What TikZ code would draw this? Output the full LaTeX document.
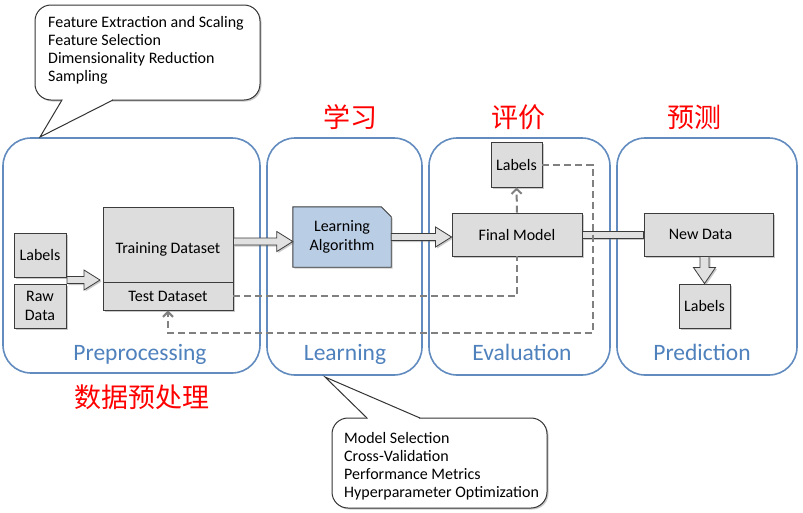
\documentclass[tikz,border=0pt]{standalone}
\usepackage{fontspec}
\setmainfont{Carlito}
\newfontfamily\cjk{Noto Sans CJK SC}
\usetikzlibrary{calc,shadows,arrows.meta}
\definecolor{stageblue}{RGB}{98,140,192}
\definecolor{stagetext}{RGB}{79,129,189}
\definecolor{boxgray}{RGB}{221,221,221}
\definecolor{boxline}{RGB}{60,60,60}
\definecolor{lafill}{RGB}{185,205,229}
\definecolor{dashgray}{RGB}{128,128,128}
\definecolor{arrowfill}{RGB}{225,225,225}
\pgfdeclarelayer{background}
\pgfsetlayers{background,main}
\newcommand{\fatarrowH}[2]{%
  \filldraw[fatarrow] let \p1=#1, \p2=#2 in
    (\x1,\y1+3.5pt) -- (\x2-16pt,\y1+3.5pt) -- (\x2-16pt,\y1+10pt) -- (\x2,\y1)
    -- (\x2-16pt,\y1-10pt) -- (\x2-16pt,\y1-3.5pt) -- (\x1,\y1-3.5pt) -- cycle;}
\newcommand{\fatarrowV}[2]{%
  \filldraw[fatarrow] let \p1=#1, \p2=#2 in
    (\x2-4.5pt,\y1) -- (\x2-4.5pt,\y2+16pt) -- (\x2-11pt,\y2+16pt) -- (\x2,\y2)
    -- (\x2+11pt,\y2+16pt) -- (\x2+4.5pt,\y2+16pt) -- (\x2+4.5pt,\y1) -- cycle;}
\begin{document}
\begin{tikzpicture}[x=1pt,y=-1pt,
  shadowed/.style={drop shadow={shadow xshift=1.5pt,shadow yshift=-1.5pt,opacity=0.35,fill=black!60}},
  stage/.style={draw=stageblue,line width=1.6pt,rounded corners=28pt,inner sep=0pt},
  stagelabel/.style={text=stagetext,font=\fontsize{23.5}{26}\selectfont,anchor=base,inner sep=0pt},
  cn/.style={text=red,font=\cjk\fontsize{27}{30}\selectfont,inner sep=0pt},
  boxtext/.style={inner sep=0pt,font=\fontsize{16}{18.5}\selectfont,align=center,text=black},
  gbox/.style={boxtext,draw=boxline,fill=boxgray,line width=0.9pt,shadowed},
  fatarrow/.style={draw=boxline,fill=arrowfill,line width=0.8pt,shadowed},
  dashline/.style={draw=dashgray,line width=2pt,dash pattern=on 7pt off 4pt},
  dashhead/.style={-{Straight Barb[length=5pt,width=10pt]}},
  callbox/.style={draw=black!80,fill=white,line width=1pt,rounded corners=16pt,shadowed},
  calltext/.style={font=\fontsize{16}{18}\selectfont,align=left,inner sep=0pt,anchor=north west,text=black}
]
\useasboundingbox (0,0) rectangle (803,512);
\begin{pgfonlayer}{background}
  \fill[white] (0,0) rectangle (803,512);
\end{pgfonlayer}

% stages
\node[stage,minimum width=257pt,minimum height=235pt] (pre) at (131.5,255.5) {};
\node[stage,minimum width=155pt,minimum height=237pt] (lrn) at (344.5,256.5) {};
\node[stage,minimum width=181pt,minimum height=237pt] (evl) at (519.5,256.5) {};
\node[stage,minimum width=180pt,minimum height=237pt] (prd) at (707,256.5) {};

\node[stagelabel] (prel) at (140,360) {Preprocessing};
\node[stagelabel] (lrnl) at (345,360) {Learning};
\node[stagelabel] (evll) at (522,360) {Evaluation};
\node[stagelabel] (prdl) at (702,360) {Prediction};

% chinese labels
\node[cn] (cnlrn) at (350,117) {学习};
\node[cn] (cnevl) at (518,117) {评价};
\node[cn] (cnprd) at (694,117) {预测};
\node[cn] (cnpre) at (142,397) {数据预处理};

% boxes
\node[gbox,minimum width=52pt,minimum height=44pt] (lab1) at (40,255) {Labels};
\node[gbox,minimum width=52pt,minimum height=44pt] (raw) at (40,306) {Raw\\Data};
\node[gbox,minimum width=130pt,minimum height=75pt,text height=20pt] (train) at (168,244.5) {Training Dataset};
\node[gbox,minimum width=130pt,minimum height=28pt] (test) at (168,296) {Test Dataset};
\node[boxtext,minimum width=98pt,minimum height=60pt] (la) at (342,237) {Learning\\Algorithm};
\begin{pgfonlayer}{background}
  \filldraw[draw=boxline,fill=lafill,line width=0.9pt,shadowed]
    (la.south west) -- (la.north west) -- ([xshift=-10pt]la.north east)
    -- ([yshift=-10pt]la.north east) -- (la.south east) -- cycle;
\end{pgfonlayer}
\node[gbox,minimum width=130pt,minimum height=43pt] (final) at (517,234.5) {Final Model};
\node[gbox,minimum width=51pt,minimum height=45pt] (elab) at (516.5,164.5) {Labels};
\node[gbox,minimum width=129pt,minimum height=43pt] (newd) at (708.5,234.5) {New Data\hspace{16pt}};
\node[gbox,minimum width=51pt,minimum height=44pt] (plab) at (704.5,306) {Labels};

% hollow arrows
\coordinate (lrs) at (67,280);
\coordinate (lre) at (100,280);
\fatarrowH{(lrs)}{(lre)}
\fatarrowH{($(train.east)+(0,-3)$)}{(la.west)}
\fatarrowH{(la.east)}{(final.west)}
\filldraw[fatarrow] let \p1=(final.east), \p2=(newd.west) in
  (\x1,\y1+3.5pt) rectangle (\x2,\y1-4pt);
\fatarrowV{(newd.south)}{(plab.north)}

% dashed connectors
\coordinate (dcorner) at (593,333);
\draw[dashline] (test.east) -| (final.south);
\draw[dashline,dashhead] (final.north) -- (elab.south);
\draw[dashline,dashhead] (elab.east) -| (dcorner) -| (test.south);

% callout top
\draw[callbox] (35,5) rectangle (260,100);
\fill[white] (63,97) rectangle (112,101.5);
\fill[white] (62,100) -- (40,137) -- (113,100) -- cycle;
\draw[black!80,line width=1pt,line join=miter] (62,100) -- (40,137) -- (113,100);
\node[calltext] (ct1) at (48,16) {Feature Extraction and Scaling\\Feature Selection\\Dimensionality Reduction\\Sampling};

% callout bottom
\draw[callbox] (332,418) rectangle (547,508);
\fill[white] (368,416.5) rectangle (419,421);
\fill[white] (367,418) -- (325,377) -- (420,418) -- cycle;
\draw[black!80,line width=1pt,line join=miter] (367,418) -- (325,377) -- (420,418);
\node[calltext] (ct2) at (344,432) {Model Selection\\Cross-Validation\\Performance Metrics\\Hyperparameter Optimization};
\end{tikzpicture}
\end{document}
